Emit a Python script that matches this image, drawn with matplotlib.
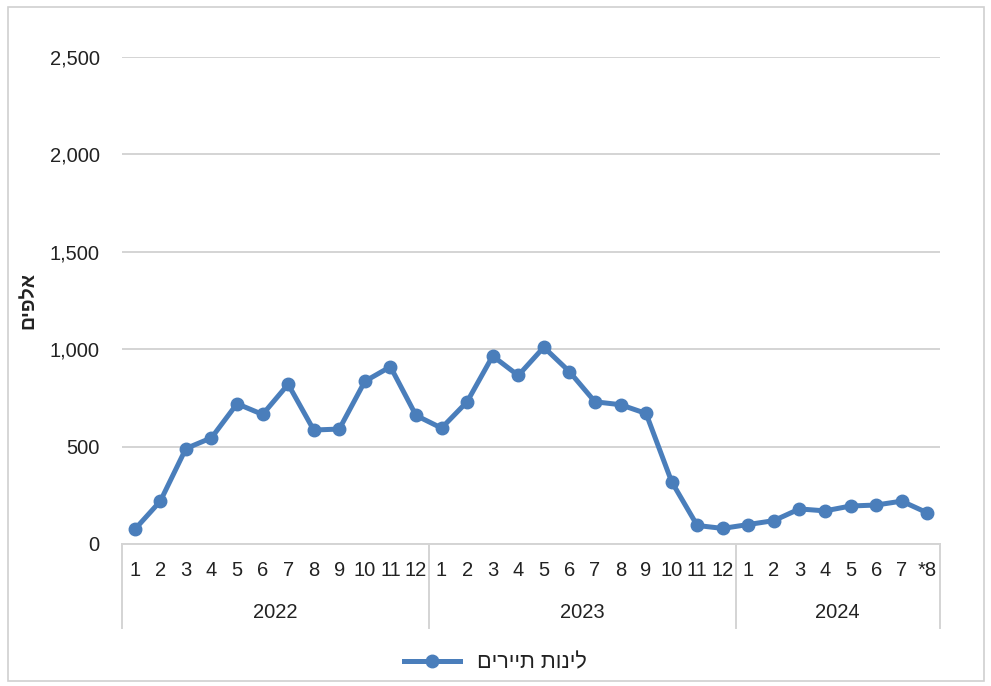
import matplotlib.pyplot as plt
from matplotlib.patches import Rectangle
from matplotlib.ticker import FuncFormatter

plt.rcParams['font.family'] = ['Liberation Sans', 'DejaVu Sans']

# monthly tourist overnight stays, thousands
years = ['2022', '2023', '2024']
months_2022 = ['1', '2', '3', '4', '5', '6', '7', '8', '9', '10', '11', '12']
months_2023 = ['1', '2', '3', '4', '5', '6', '7', '8', '9', '10', '11', '12']
months_2024 = ['1', '2', '3', '4', '5', '6', '7', '*8']
vals_2022 = [75, 220, 490, 545, 720, 665, 820, 585, 590, 835, 910, 660]
vals_2023 = [595, 730, 965, 865, 1010, 885, 730, 715, 670, 320, 95, 80]
vals_2024 = [100, 120, 180, 170, 195, 200, 220, 160]

series_name = 'לינות תיירים'
y_label = 'אלפים'


def rtl(s):
    # matplotlib has no bidi support, so reverse Hebrew text by hand
    return s[::-1]


month_labels = months_2022 + months_2023 + months_2024
values = vals_2022 + vals_2023 + vals_2024
groups = [len(months_2022), len(months_2023), len(months_2024)]
x = list(range(len(values)))

fig = plt.figure(figsize=(9.91, 6.86), dpi=100)
ax = fig.add_axes([0.1231, 0.207, 0.8255, 0.710])

line_color = '#4a7ebb'
grid_color = '#d4d4d4'
text_color = '#222222'

ax.plot(x, values, color=line_color, linewidth=3.6, marker='o', markersize=9,
        label=rtl(series_name), zorder=3)

ax.set_xlim(-0.5, len(values) - 0.5)
ax.set_ylim(0, 2500)
ax.set_yticks([0, 500, 1000, 1500, 2000, 2500])
ax.yaxis.set_major_formatter(FuncFormatter(lambda v, p: f'{int(v):,}'))
ax.grid(axis='y', color=grid_color, linewidth=1.4)
ax.set_axisbelow(True)
for s in ['top', 'right', 'left']:
    ax.spines[s].set_visible(False)
ax.spines['bottom'].set_color(grid_color)
ax.spines['bottom'].set_linewidth(1.4)
ax.tick_params(axis='y', length=0, labelsize=14.5, pad=16, colors=text_color)
ax.tick_params(axis='x', length=0, labelsize=14.5, pad=12, colors=text_color)
ax.set_xticks(x)
ax.set_xticklabels(month_labels)

ax.set_ylabel(rtl(y_label), fontsize=14, fontweight='bold', color=text_color)
ax.yaxis.set_label_coords(-0.103, 0.5)

# year group labels and separators under the month ticks
trans = ax.get_xaxis_transform()
bounds = [-0.5]
for g in groups:
    bounds.append(bounds[-1] + g)
for b in bounds:
    ax.plot([b, b], [0, -0.173], transform=trans, color=grid_color,
            linewidth=1.4, clip_on=False)
for i, yr in enumerate(years):
    mid = (bounds[i] + bounds[i + 1]) / 2
    ax.text(mid, -0.14, yr, transform=trans, ha='center', va='center',
            fontsize=14.5, color=text_color)

fig.legend(loc='center', bbox_to_anchor=(0.5, 0.034), frameon=False,
           fontsize=15.5, handlelength=2.6, labelcolor=text_color)

fig.patches.append(Rectangle((0.008, 0.008), 0.985, 0.982, transform=fig.transFigure,
                             fill=False, edgecolor='#d0d0d0', linewidth=1.2))

fig.savefig('out.png', dpi=100)
